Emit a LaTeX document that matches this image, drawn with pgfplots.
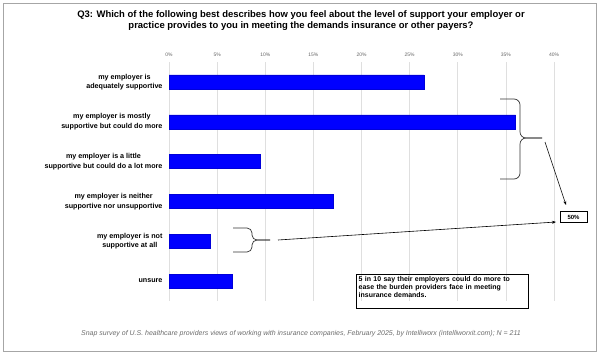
\documentclass[border=0pt]{standalone}
\usepackage{pgfplots}
\pgfplotsset{compat=1.18}
\usepackage{fontspec}
\setmainfont{Liberation Sans}
\usetikzlibrary{arrows.meta}
\definecolor{barblue}{RGB}{0,0,255}
\begin{document}
\begin{tikzpicture}[x=1bp,y=1bp]
\useasboundingbox (0,0) rectangle (600,355);
\draw[gray!70, line width=1bp] (3,4) rectangle (596,351);
\node[align=center, font=\fontsize{9.5}{11}\selectfont\bfseries] at (301,334.5)
  {Q3: Which of the following best describes how you feel about the level of support your employer or\\
   practice provides to you in meeting the demands insurance or other payers?};
\begin{axis}[at={(169bp,54bp)}, anchor=south west, width=385bp, height=239bp, scale only axis,
  xbar, bar width=14bp, xmin=0, xmax=40, ymin=-0.5, ymax=5.5, y dir=reverse,
  xtick={0,5,10,15,20,25,30,35,40},
  xticklabels={0\%,5\%,10\%,15\%,20\%,25\%,30\%,35\%,40\%},
  xticklabel pos=upper,
  xticklabel style={font=\fontsize{5}{6}\selectfont, text=gray!80!black, yshift=2bp},
  ytick={0,1,2,3,4,5},
  yticklabels={{my employer is\\adequately supportive},
               {my employer is mostly\\supportive but could do more},
               {my employer is a little\\supportive but could do a lot more},
               {my employer is neither\\supportive nor unsupportive},
               {my employer is not\\supportive at all},
               {unsure}},
  yticklabel style={font=\fontsize{7.2}{9.5}\selectfont\bfseries, align=center, xshift=-3bp},
  major tick length=0pt,
  axis line style={draw=none},
  xmajorgrids, grid style={gray!25, line width=0.6bp},
  clip=false]
\addplot[fill=barblue, draw=barblue!85!black, line width=0.3bp]
  coordinates {(26.5,0) (36.0,1) (9.5,2) (17.1,3) (4.3,4) (6.6,5)};
\end{axis}
% annotations
\draw[black!80, line width=0.7bp, rounded corners=6bp] (500,256) -- (520,256) -- (520,217) -- (542,217);
\draw[black!80, line width=0.7bp, rounded corners=6bp] (500,176) -- (520,176) -- (520,217) -- (542,217);
\draw[-{Stealth[length=4bp,width=3bp]}, line width=0.6bp] (545,213) -- (566,150);
\node[draw, line width=0.6bp, font=\fontsize{6}{7}\selectfont\bfseries, minimum width=27bp, minimum height=11bp, inner sep=1bp] at (573.5,138) {50\%};
\draw[black!80, line width=0.7bp, rounded corners=5bp] (233,127) -- (252,127) -- (252,115) -- (270,115);
\draw[black!80, line width=0.7bp, rounded corners=5bp] (233,103) -- (252,103) -- (252,115) -- (270,115);
\draw[-{Stealth[length=4bp,width=3bp]}, line width=0.6bp] (278,115) -- (556,133);
\draw[line width=0.6bp] (356,47) rectangle (528,81);
\node[anchor=north west, align=left, text width=168bp, inner sep=0pt, font=\fontsize{7}{8.3}\selectfont\bfseries] at (358.5,79)
  {5 in 10 say their employers could do more to\\ ease the burden providers face in meeting\\ insurance demands.};
\node[font=\fontsize{7}{8}\selectfont\itshape, text=gray!85!black] at (301,21)
  {Snap survey of U.S. healthcare providers views of working with insurance companies, February 2025, by Intelliworx (intelliworxit.com); N = 211};
\end{tikzpicture}
\end{document}
